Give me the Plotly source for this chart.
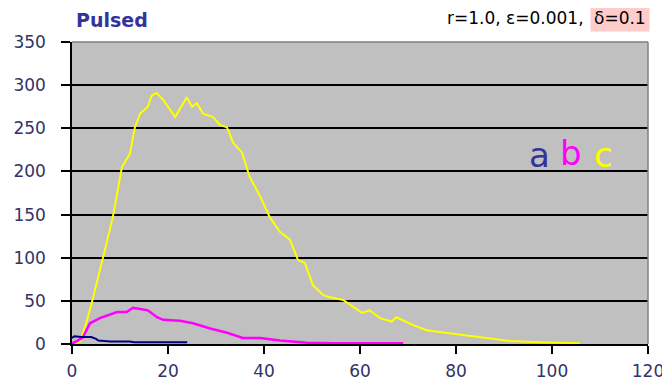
import plotly.graph_objects as go

# Series a (navy)
a_x = [0, 0.5, 2, 4, 5, 5.5, 8, 12, 13, 18, 24]
a_y = [7, 9, 8, 8, 6, 4, 3, 3, 2, 2, 2]

# Series b (magenta)
b_x = [0, 0.2, 1.2, 2.3, 3.0, 3.75, 5.8, 7.9, 9.4, 11.4, 12.7, 14.8, 15.8, 17.7, 19, 22.5,
       25.2, 28.8, 32.3, 35.6, 39.2, 43.3, 46, 49, 55, 60, 69]
b_y = [0, 1, 4, 8, 16, 24, 30, 34, 37, 37, 42, 40, 39, 31, 28, 27,
       24, 18, 13, 7, 7, 4, 3, 1.5, 1, 1, 1]

# Series c (yellow)
c_x = [0, 1.7, 3.0, 4.4, 6.5, 8.5, 10.4, 12.1, 13.1, 14.2, 15.8, 16.6, 17.6, 19, 21.5,
       22.5, 23.9, 25, 26, 27.3, 29.4, 30.8, 32.3, 33.6, 35.4, 37, 39.2, 41.2, 43.3,
       45.4, 47.1, 48.5, 50.2, 52.3, 53.1, 56.5, 60.4, 62, 64.2, 66.6, 67.6, 71, 73.9,
       79.4, 86.4, 91.3, 97.5, 105.8]
c_y = [0, 3, 25, 54, 101, 147, 205, 221, 251, 267, 275, 288, 291, 283, 263,
       273, 286, 275, 279, 267, 263, 254, 251, 233, 222, 194, 171, 147, 130,
       121, 97, 94, 68, 57, 55, 51, 36, 39, 30, 26, 31, 22, 16,
       12, 7, 3.5, 2, 1]

x_ticks = [0, 20, 40, 60, 80, 100, 120]
y_ticks = [0, 50, 100, 150, 200, 250, 300, 350]

fig = go.Figure()
fig.add_trace(go.Scatter(x=c_x, y=c_y, mode="lines", line=dict(color="#ffff00", width=2)))
fig.add_trace(go.Scatter(x=b_x, y=b_y, mode="lines", line=dict(color="#ff00ff", width=2.5)))
fig.add_trace(go.Scatter(x=a_x, y=a_y, mode="lines", line=dict(color="#000080", width=2)))

tickfont = dict(family="DejaVu Sans", size=17, color="#333366")

fig.update_layout(
    width=662, height=372,
    margin=dict(l=64, r=22, t=34, b=36, autoexpand=False),
    paper_bgcolor="white",
    plot_bgcolor="#c0c0c0",
    showlegend=False,
    xaxis=dict(range=[0, 120], tickvals=x_ticks, showgrid=False, zeroline=False,
               showline=True, linecolor="black", linewidth=1.5, automargin=False,
               ticks="outside", ticklen=8, tickcolor="black", tickwidth=1.5,
               tickfont=tickfont, ticklabelstandoff=3),
    yaxis=dict(range=[0, 350], tickvals=y_ticks, showgrid=True, gridcolor="black",
               gridwidth=1.5, zeroline=False, automargin=False,
               showline=True, linecolor="black", linewidth=1.5,
               ticks="outside", ticklen=9, tickcolor="black", tickwidth=1.5,
               tickfont=tickfont, ticklabelstandoff=12),
    shapes=[
        dict(type="line", xref="paper", yref="paper", x0=0, x1=1, y0=1, y1=1,
             line=dict(color="#808080", width=1.5), layer="above"),
        dict(type="line", xref="paper", yref="paper", x0=1, x1=1, y0=0, y1=1,
             line=dict(color="#808080", width=1.5), layer="above"),
    ],
    annotations=[
        dict(text="<b>Pulsed</b>", xref="paper", yref="paper", x=0.004, y=1.072,
             xanchor="left", yanchor="middle", showarrow=False,
             font=dict(family="DejaVu Sans", size=19, color="#333399")),
        dict(text="r=1.0, ε=0.001,", xref="paper", yref="paper", x=0.893, y=1.079,
             xanchor="right", yanchor="middle", showarrow=False,
             font=dict(family="DejaVu Sans", size=17, color="black")),
        dict(text="δ=0.1", xref="paper", yref="paper", x=1.004, y=1.079,
             xanchor="right", yanchor="middle", showarrow=False, bgcolor="#ffcccc",
             borderpad=3,
             font=dict(family="DejaVu Sans", size=17, color="black")),
        dict(text="a", x=97.3, y=219, xref="x", yref="y", showarrow=False,
             font=dict(family="DejaVu Sans", size=34, color="#333399")),
        dict(text="b", x=104, y=221, xref="x", yref="y", showarrow=False,
             font=dict(family="DejaVu Sans", size=34, color="#ff00ff")),
        dict(text="c", x=110.8, y=219, xref="x", yref="y", showarrow=False,
             font=dict(family="DejaVu Sans", size=34, color="#ffff00")),
    ],
)

fig.write_html("out.html")
